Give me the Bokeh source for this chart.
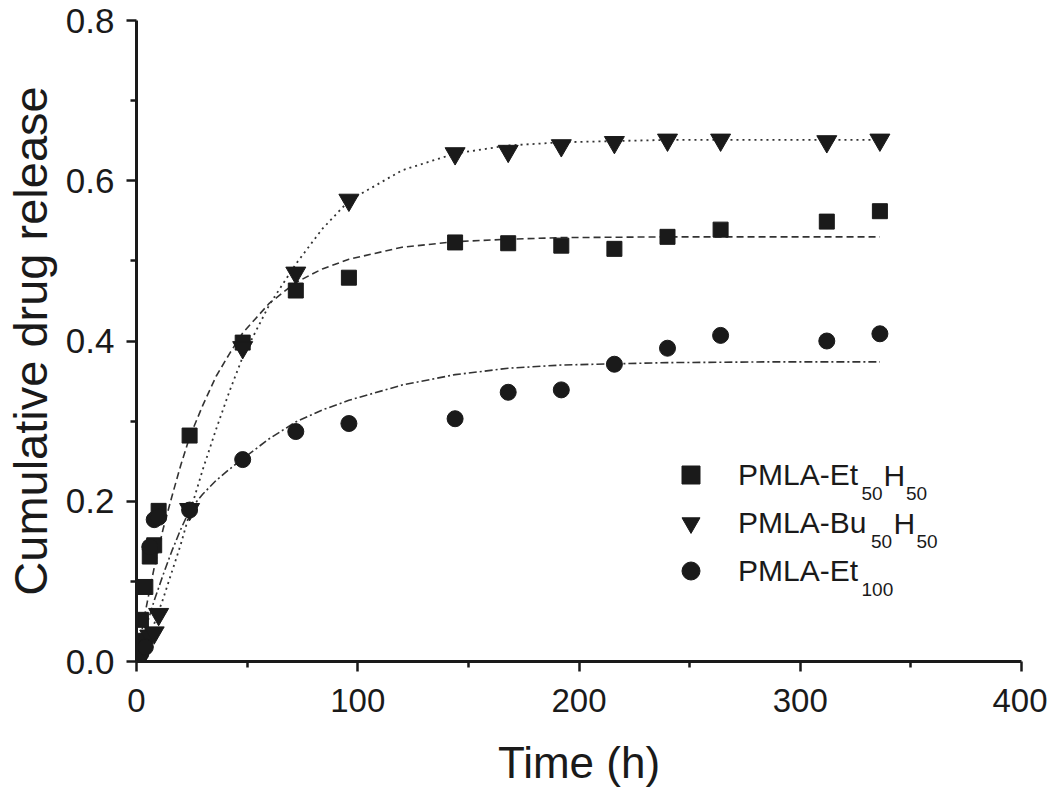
from bokeh.plotting import figure
from bokeh.models import (Range1d, Legend, LegendItem, Label, FixedTicker,
                          PrintfTickFormatter, ColumnDataSource)
from bokeh.embed import file_html
from bokeh.resources import INLINE

# ---------------- data ----------------
time_h = [1, 2, 4, 6, 8, 10, 24, 48, 72, 96, 144, 168, 192, 216, 240, 264, 312, 336]
et50h50 = [0.020, 0.052, 0.093, 0.131, 0.145, 0.188, 0.282, 0.398, 0.463, 0.479,
           0.523, 0.522, 0.519, 0.515, 0.530, 0.539, 0.549, 0.562]
bu50h50 = [0.005, 0.012, 0.028, 0.032, 0.036, 0.059, 0.190, 0.392, 0.485, 0.576,
           0.634, 0.637, 0.644, 0.648, 0.651, 0.651, 0.649, 0.651]
et100 = [0.005, 0.010, 0.018, 0.143, 0.177, 0.180, 0.189, 0.252, 0.287, 0.297,
         0.303, 0.336, 0.339, 0.371, 0.391, 0.407, 0.400, 0.409]

# fitted curves
fit_time = [0, 2, 4, 6, 8, 12, 16, 20, 24, 30, 36, 42, 48, 60, 72, 84, 96, 120,
            144, 168, 192, 240, 288, 336]
fit_et50h50 = [0, 0.032, 0.062, 0.090, 0.117, 0.165, 0.206, 0.245, 0.280, 0.320,
               0.356, 0.384, 0.410, 0.447, 0.473, 0.490, 0.502, 0.517, 0.524,
               0.527, 0.529, 0.530, 0.530, 0.530]
fit_bu50h50 = [0, 0.007, 0.019, 0.033, 0.047, 0.078, 0.112, 0.146, 0.185, 0.240,
               0.290, 0.337, 0.380, 0.445, 0.496, 0.540, 0.575, 0.613, 0.634,
               0.644, 0.648, 0.651, 0.651, 0.651]
fit_et100 = [0, 0.020, 0.040, 0.058, 0.076, 0.108, 0.138, 0.165, 0.189, 0.209,
             0.226, 0.240, 0.253, 0.278, 0.299, 0.314, 0.326, 0.345, 0.358,
             0.366, 0.370, 0.373, 0.374, 0.374]

x_ticks = [0, 100, 200, 300, 400]
x_minor = [50, 150, 250, 350]
y_ticks = [0.0, 0.2, 0.4, 0.6, 0.8]
y_minor = [0.1, 0.3, 0.5, 0.7]

FONT = "Liberation Sans"
INK = "#1a1a1a"
LINE = "#333333"

p = figure(frame_width=885, frame_height=641,
           x_range=Range1d(0, 400), y_range=Range1d(0, 0.8),
           output_backend="svg", toolbar_location=None,
           min_border_left=120, min_border_right=26,
           min_border_top=20, min_border_bottom=110)
p.outline_line_color = None
p.grid.visible = False
p.background_fill_color = "white"
p.border_fill_color = "white"

src = ColumnDataSource(dict(t=time_h, a=et50h50, b=bu50h50, c=et100))
fsrc = ColumnDataSource(dict(t=fit_time, a=fit_et50h50, b=fit_bu50h50, c=fit_et100))

# fit lines
p.line("t", "a", source=fsrc, line_color=LINE, line_width=1.6, line_dash="7 4")
p.line("t", "b", source=fsrc, line_color=LINE, line_width=1.8, line_dash="2 4")
p.line("t", "c", source=fsrc, line_color=LINE, line_width=1.6, line_dash="8 3 2 3")

# markers
r_sq = p.scatter("t", "a", source=src, marker="square", size=15,
                 fill_color=INK, line_color=INK, line_width=1)
r_tr = p.scatter("t", "b", source=src, marker="inverted_triangle", size=20,
                 fill_color=INK, line_color=INK, line_width=1)
r_ci = p.scatter("t", "c", source=src, marker="circle", size=16,
                 fill_color=INK, line_color=INK, line_width=1)

# axes
for ax in (p.xaxis[0], p.yaxis[0]):
    ax.axis_line_width = 3
    ax.axis_line_color = INK
    ax.major_tick_line_width = 2.5
    ax.major_tick_line_color = INK
    ax.minor_tick_line_width = 2.5
    ax.minor_tick_line_color = INK
    ax.major_tick_in = 0
    ax.major_tick_out = 10
    ax.minor_tick_in = 0
    ax.minor_tick_out = 6
    ax.major_label_text_font = FONT
    ax.major_label_text_color = INK
    ax.axis_label_text_font = FONT
    ax.axis_label_text_font_style = "normal"
    ax.axis_label_text_color = INK

p.xaxis[0].ticker = FixedTicker(ticks=x_ticks, minor_ticks=x_minor)
p.yaxis[0].ticker = FixedTicker(ticks=y_ticks, minor_ticks=y_minor)
p.yaxis[0].formatter = PrintfTickFormatter(format="%.1f")
p.xaxis[0].major_label_text_font_size = "33px"
p.yaxis[0].major_label_text_font_size = "35px"
p.xaxis[0].major_label_standoff = 17
p.yaxis[0].major_label_standoff = 12
p.xaxis[0].axis_label = "Time (h)"
p.yaxis[0].axis_label = "Cumulative drug release"
p.xaxis[0].axis_label_text_font_size = "44px"
p.yaxis[0].axis_label_text_font_size = "47px"
p.xaxis[0].axis_label_standoff = 23
p.yaxis[0].axis_label_standoff = 6

# legend (main text) + subscripts
legend = Legend(items=[LegendItem(label="PMLA-Et", renderers=[r_sq]),
                       LegendItem(label="PMLA-Bu", renderers=[r_tr]),
                       LegendItem(label="PMLA-Et", renderers=[r_ci])],
                location=(532, 68), orientation="vertical",
                glyph_width=45, glyph_height=45, label_height=45,
                label_standoff=25, spacing=3, padding=0, margin=0,
                border_line_color=None, background_fill_alpha=0,
                label_text_font=FONT, label_text_font_size="30px",
                label_text_color=INK)
p.add_layout(legend)

row_c = [186.5, 138.5, 90.5]
sub_kw = dict(x_units="screen", y_units="screen", text_font=FONT,
              text_font_size="19px", text_color=INK, text_baseline="alphabetic")
main_kw = dict(x_units="screen", y_units="screen", text_font=FONT,
               text_font_size="30px", text_color=INK, text_baseline="middle")
SUB_DY = 18
# row 1: PMLA-Et50H50
p.add_layout(Label(x=725, y=row_c[0] - SUB_DY, text="50", **sub_kw))
p.add_layout(Label(x=747, y=row_c[0], text="H", **main_kw))
p.add_layout(Label(x=769.5, y=row_c[0] - SUB_DY, text="50", **sub_kw))
# row 2: PMLA-Bu50H50
p.add_layout(Label(x=734.5, y=row_c[1] - SUB_DY, text="50", **sub_kw))
p.add_layout(Label(x=757, y=row_c[1], text="H", **main_kw))
p.add_layout(Label(x=780, y=row_c[1] - SUB_DY, text="50", **sub_kw))
# row 3: PMLA-Et100
p.add_layout(Label(x=725, y=row_c[2] - SUB_DY, text="100", **sub_kw))

open("out.html", "w").write(file_html(p, INLINE))
